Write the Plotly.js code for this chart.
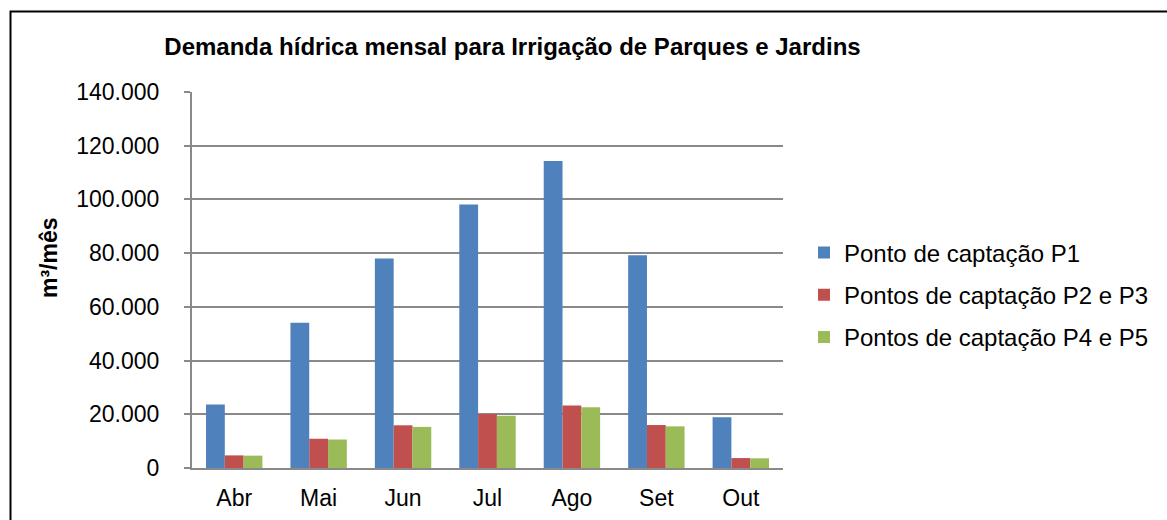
<!DOCTYPE html>
<html>
<head>
<meta charset="utf-8">
<script src="https://cdn.plot.ly/plotly-3.0.1.min.js"></script>
<style>
  html, body { margin: 0; padding: 0; background: #ffffff; }
  #chart { width: 1167px; height: 520px; }
</style>
</head>
<body>
<div id="chart"></div>
<script>
// Data
const months = ["Abr", "Mai", "Jun", "Jul", "Ago", "Set", "Out"];
const seriesNames = ["Ponto de captação P1", "Pontos de captação P2 e P3", "Pontos de captação P4 e P5"];
const p1 = [23600, 54100, 78000, 98100, 114300, 79200, 18900];
const p2p3 = [4700, 10900, 15900, 20100, 23300, 16000, 3700];
const p4p5 = [4600, 10600, 15300, 19500, 22600, 15500, 3600];
const yTicks = [0, 20000, 40000, 60000, 80000, 100000, 120000, 140000];
const yTickText = ["0", "20.000", "40.000", "60.000", "80.000", "100.000", "120.000", "140.000"];
const yTitle = "m³/mês";

const colors = ["#4F81BD", "#C0504D", "#9BBB59"];
const values = [p1, p2p3, p4p5];
const FONT = "Liberation Sans, Arial, sans-serif";

const traces = values.map((v, i) => ({
  type: "bar",
  name: seriesNames[i],
  x: months,
  y: v,
  marker: { color: colors[i], line: { width: 0 } },
  legendgroup: "g" + i,
  hoverinfo: "x+y+name"
}));

const L = 192, R = 783, T = 92, B = 468, W = 1167, H = 520;
const pw = R - L, ph = B - T;
const px = v => (v - L) / pw;
const py = v => (B - v) / ph;

const layout = {
  width: W,
  height: H,
  margin: { l: L, r: W - R, t: T, b: H - B, pad: 0 },
  paper_bgcolor: "#ffffff",
  plot_bgcolor: "#ffffff",
  font: { family: FONT, color: "#000000", size: 23 },
  title: {
    text: "<b>Demanda hídrica mensal para Irrigação de Parques e Jardins</b>",
    font: { family: FONT, size: 24, color: "#000000" },
    xref: "container", yref: "container",
    x: 512.5 / W, xanchor: "center",
    y: 1 - 47 / H, yanchor: "middle"
  },
  barmode: "group",
  bargap: 0.332,
  bargroupgap: 0,
  showlegend: true,
  legend: {
    x: px(804), xanchor: "left",
    y: py(295), yanchor: "middle",
    font: { family: FONT, size: 24, color: "#000000" },
    bgcolor: "rgba(0,0,0,0)",
    tracegroupgap: 8,
    traceorder: "grouped",
    itemclick: false
  },
  xaxis: {
    type: "category",
    showgrid: false,
    showline: true,
    linecolor: "#898989",
    linewidth: 2,
    ticks: "",
    tickfont: { family: FONT, size: 23, color: "#000000" },
    ticklabelstandoff: 8,
    zeroline: false,
    fixedrange: true
  },
  yaxis: {
    range: [0, 140000],
    tickvals: yTicks,
    ticktext: yTickText,
    showgrid: true,
    gridcolor: "#898989",
    gridwidth: 2,
    showline: true,
    linecolor: "#898989",
    linewidth: 2,
    ticks: "outside",
    ticklen: 6,
    tickwidth: 2,
    tickcolor: "#898989",
    tickfont: { family: FONT, size: 23, color: "#000000" },
    ticklabelstandoff: 20,
    zeroline: false,
    fixedrange: true
  },
  annotations: [{
    text: "<b>" + yTitle + "</b>",
    xref: "paper", yref: "paper",
    x: px(49), y: py(258),
    xanchor: "center", yanchor: "middle",
    textangle: -90,
    showarrow: false,
    font: { family: FONT, size: 23, color: "#000000" }
  }],
  shapes: [{
    type: "rect",
    xref: "paper", yref: "paper",
    x0: px(10.5), x1: px(1200),
    y0: py(560), y1: py(11.5),
    line: { color: "#000000", width: 2 },
    fillcolor: "rgba(0,0,0,0)",
    layer: "above"
  }]
};

Plotly.newPlot("chart", traces, layout, { displayModeBar: false, staticPlot: true });
</script>
</body>
</html>
